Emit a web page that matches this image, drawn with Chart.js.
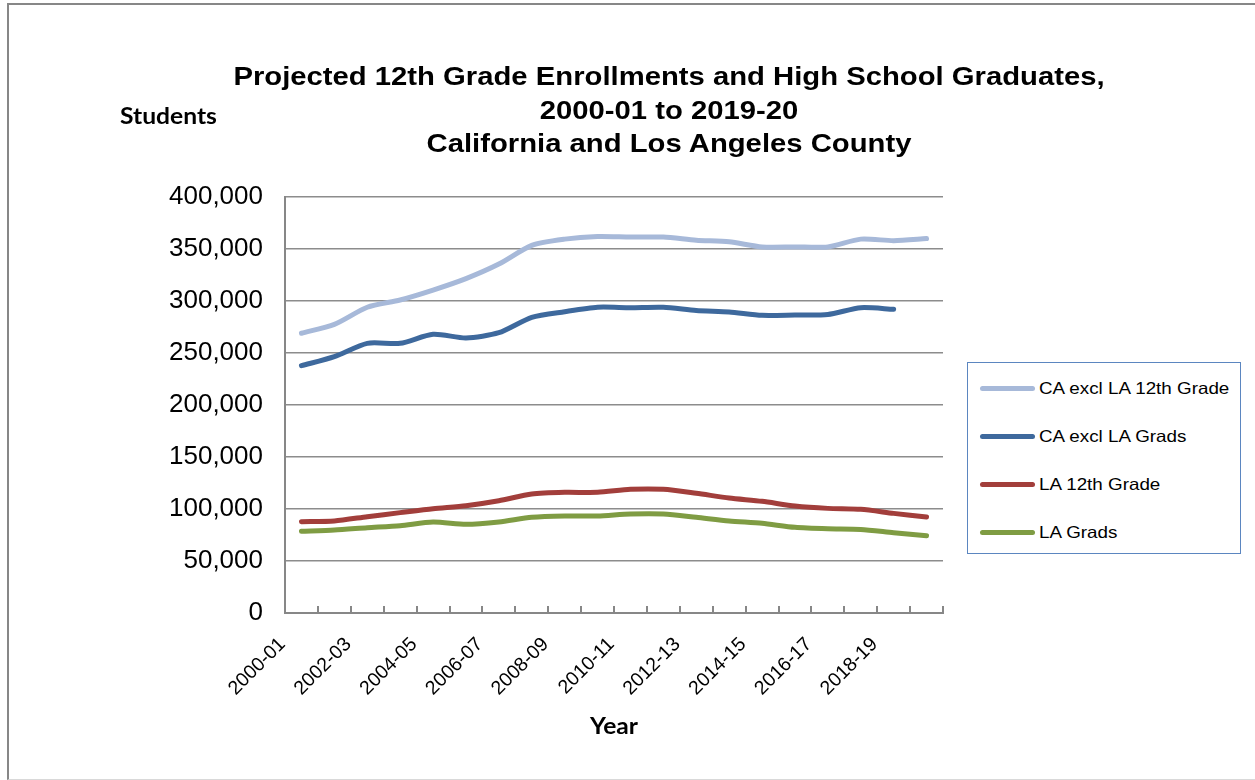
<!DOCTYPE html>
<html>
<head>
<meta charset="utf-8">
<script src="https://cdn.jsdelivr.net/npm/chart.js@4.4.1/dist/chart.umd.min.js"></script>
<style>
  html, body { margin: 0; padding: 0; background: #fff; }
  #wrap { position: relative; width: 1255px; height: 780px; overflow: hidden; background: #fff; }
  #frame { position: absolute; left: 7px; top: 3px; width: 1300px; height: 774px;
           border-left: 2px solid #878787; border-top: 2px solid #878787; border-bottom: 1px solid #d9d9d9; }
  #cv { position: absolute; left: 0; top: 0; }
  .title { position: absolute; left: 269px; width: 800px; top: 60px; text-align: center;
           font: bold 25px "Liberation Sans", Arial, sans-serif; line-height: 33.5px; color: #000;
           transform: scaleX(1.17); transform-origin: 50% 0; }
  .axt { position: absolute; font: bold 22px Lato, "Open Sans", sans-serif; color: #000;
         transform: scaleX(1.12); transform-origin: 0 50%; }
  #legend { position: absolute; left: 967px; top: 362px; width: 274px; height: 192px;
            border: 1px solid #5b86c0; box-sizing: border-box; background: #fff; }
  .li { position: absolute; left: 12px; height: 20px; display: flex; align-items: center;
        font: 16.5px "Liberation Sans", Arial, sans-serif; color: #000; white-space: nowrap; }
  .sw { width: 55px; height: 5px; border-radius: 3px; margin-right: 4px; flex: none; }
  .li span { display: inline-block; transform: scaleX(1.14); transform-origin: 0 50%; }
</style>
</head>
<body>
<div id="wrap">
  <div id="frame"></div>
  <canvas id="cv" width="1255" height="780"></canvas>
  <div class="title" id="title"></div>
  <div class="axt" id="ytitle" style="left:120px; top:102px;"></div>
  <div class="axt" id="xtitle" style="left:590px; top:712px;"></div>
  <div id="legend"></div>
</div>
<script>
const years = ["2000-01","2001-02","2002-03","2003-04","2004-05","2005-06","2006-07","2007-08","2008-09","2009-10",
               "2010-11","2011-12","2012-13","2013-14","2014-15","2015-16","2016-17","2017-18","2018-19","2019-20"];
const caExclLA12th = [269000,277500,294000,301000,310500,321500,335500,353500,359500,362000,
                      361500,361500,358500,357000,352000,352000,352000,359500,358000,360000];
const caExclLAGrads = [237800,246500,259300,259300,268000,264500,269500,284300,289700,294000,
                       293600,294000,290800,289400,286200,286500,287000,293600,292000];
const la12th = [87800,88500,92600,96500,100300,103200,108000,114400,116000,116000,
                118900,118900,115100,110600,107400,102900,100600,99700,95800,92300];
const laGrads = [78500,79800,82000,84000,87500,85300,87500,92000,93300,93300,
                 95200,95200,92000,88500,86200,82400,81000,80400,77200,74300];
const seriesNames = ["CA excl LA 12th Grade","CA excl LA Grads","LA 12th Grade","LA Grads"];
const seriesColors = ["#a7b9d9","#3e699d","#a23e3b","#7f9c43"];
const titleLines = ["Projected 12th Grade Enrollments and High School Graduates,","2000-01 to 2019-20","California and Los Angeles County"];
const yAxisTitle = "Students";
const xAxisTitle = "Year";

document.getElementById('title').innerHTML = titleLines.join('<br>');
document.getElementById('ytitle').textContent = yAxisTitle;
document.getElementById('xtitle').textContent = xAxisTitle;
const leg = document.getElementById('legend');
seriesNames.forEach((n, i) => {
  const d = document.createElement('div');
  d.className = 'li';
  d.style.top = (15 + i * 48) + 'px';
  d.innerHTML = '<div class="sw" style="background:' + seriesColors[i] + '"></div><span></span>';
  d.querySelector('span').textContent = n;
  leg.appendChild(d);
});

const allData = [caExclLA12th, caExclLAGrads, la12th, laGrads];

const innerTicks = {
  id: 'innerTicks',
  afterDraw(chart) {
    const xs = chart.scales.x, ctx = chart.ctx;
    const bottom = chart.chartArea.bottom;
    ctx.save();
    ctx.strokeStyle = '#878787';
    ctx.lineWidth = 2;
    for (let i = 0; i <= years.length; i++) {
      const x = Math.round(xs.getPixelForValue(i - 0.5));
      ctx.beginPath();
      ctx.moveTo(x, bottom);
      ctx.lineTo(x, bottom - 7);
      ctx.stroke();
    }
    ctx.restore();
  }
};

new Chart(document.getElementById('cv'), {
  type: 'line',
  data: {
    labels: years,
    datasets: allData.map((d, i) => ({
      label: seriesNames[i],
      data: d,
      borderColor: seriesColors[i],
      backgroundColor: seriesColors[i],
      borderWidth: 5,
      pointRadius: 0,
      tension: 0.25,
      borderCapStyle: 'round',
      borderJoinStyle: 'round',
      fill: false
    }))
  },
  options: {
    responsive: false,
    animation: false,
    layout: { padding: { left: 20, right: 312, top: 197, bottom: 67 } },
    plugins: { legend: { display: false }, title: { display: false }, tooltip: { enabled: false } },
    scales: {
      x: {
        offset: true,
        afterFit: s => { s.height = 100; },
        grid: { display: true, drawOnChartArea: false, drawTicks: false, offset: true },
        border: { display: true, color: '#878787', width: 2 },
        ticks: {
          autoSkip: false, maxRotation: 45, minRotation: 45, padding: 20, labelOffset: -19,
          color: '#000', font: { family: '"Liberation Sans", Arial, sans-serif', size: 19.5 },
          callback: function(v, i) { return i % 2 === 0 ? years[i] : ''; }
        }
      },
      y: {
        min: 0, max: 400000,
        afterFit: s => { s.width = 265; },
        grid: { color: '#8c8c8c', lineWidth: 1.5, drawTicks: false },
        border: { display: true, color: '#878787', width: 2 },
        ticks: {
          stepSize: 50000, padding: 22, color: '#000',
          font: { family: '"Liberation Sans", Arial, sans-serif', size: 26 },
          callback: v => v.toLocaleString('en-US')
        }
      }
    }
  },
  plugins: [innerTicks]
});
</script>
</body>
</html>
